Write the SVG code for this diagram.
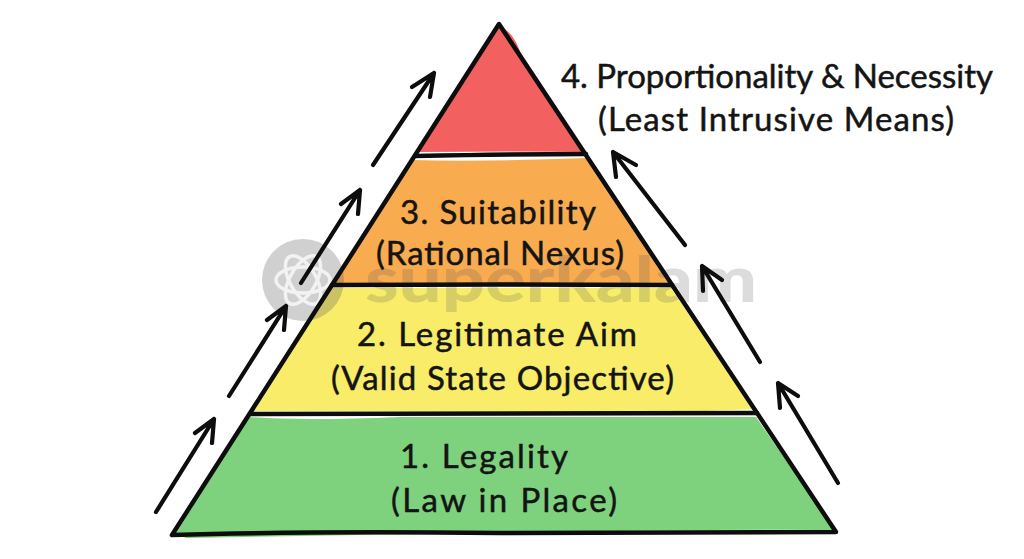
<svg xmlns="http://www.w3.org/2000/svg" width="1024" height="559" viewBox="0 0 1024 559">
<style>
.t{font-family:"Lato","Open Sans","Liberation Sans",sans-serif;font-size:33px;fill:#141414;stroke:#141414;stroke-width:.5px}
.o{fill:none;stroke:#0d0d0d;stroke-width:4.5;stroke-linecap:round;stroke-linejoin:round}
.a{fill:none;stroke:#0d0d0d;stroke-width:4.2;stroke-linecap:round;stroke-linejoin:round}
</style>
<rect width="1024" height="559" fill="#fff"/>
<g id="tier-4">
<path d="M499 26Q515 32 522 58L581 146L584 152Q520 151 418 152Q420 140 432 128Z" fill="#f26060"/>
</g>
<g id="tier-3">
<path d="M412 160Q480 162 586 158L668 283L335 283Z" fill="#f9ab50"/>
</g>
<g id="tier-2">
<path d="M329 288L671 288L752 409Q660 414 500 411L254 411Z" fill="#f8ec68"/>
</g>
<g id="tier-1">
<path d="M249 417Q300 421 400 417L756 417L834 530Q760 529 600 531L186 538L176 533Z" fill="#7fd27d"/>
</g>
<g id="watermark">
<circle cx="303" cy="280" r="41" fill="#555" opacity=".28"/>
<g fill="none" stroke="#f2f2f2" stroke-width="3.5">
<ellipse cx="303" cy="280" rx="27" ry="13" transform="rotate(60 303 280)"/>
<ellipse cx="303" cy="280" rx="27" ry="13" transform="rotate(-60 303 280)"/>
<ellipse cx="303" cy="280" rx="27" ry="13"/>
</g>
<text x="365" y="302" font-family="Lato,'Open Sans','Liberation Sans',sans-serif" font-size="62" font-weight="900" fill="#555" opacity=".2" textLength="392" lengthAdjust="spacingAndGlyphs">superkalam</text>
</g>
<g id="connectors">
<path class="o" d="M499 24L172 535Q300 531 500 533L836 532Z"/>
<path class="o" d="M415 156Q520 154 586 154"/>
<path class="o" d="M332 285Q500 284 672 285"/>
<path class="o" d="M250 414Q500 413 757 413"/>
<path class="a" d="M156 512L214 419M195 433L214 419L212 443"/>
<path class="a" d="M229 396L286 306M267 320L286 306L284 330"/>
<path class="a" d="M301 283L360 190M341 204L360 190L358 214"/>
<path class="a" d="M373 165L434 73M412 87L434 73L430 97"/>
<path class="a" d="M838 483L778 383M780 408L778 383L798 396"/>
<path class="a" d="M760 362L702 266M703 291L702 266L722 280"/>
<path class="a" d="M685 245L613 152M616 177L613 152L636 165"/>
</g>
<g id="label-4">
<text class="t" x="561" y="88" textLength="432">4. Proportionality &amp; Necessity</text>
<text class="t" x="598" y="131" textLength="356">(Least Intrusive Means)</text>
</g>
<g id="label-3">
<text class="t" x="400" y="224" textLength="196">3. Suitability</text>
<text class="t" x="376" y="265" textLength="248">(Rational Nexus)</text>
</g>
<g id="label-2">
<text class="t" x="357" y="346" textLength="280">2. Legitimate Aim</text>
<text class="t" x="331" y="390" textLength="343">(Valid State Objective)</text>
</g>
<g id="label-1">
<text class="t" x="400" y="468" textLength="168">1. Legality</text>
<text class="t" x="391" y="512" textLength="226">(Law in Place)</text>
</g>
</svg>
